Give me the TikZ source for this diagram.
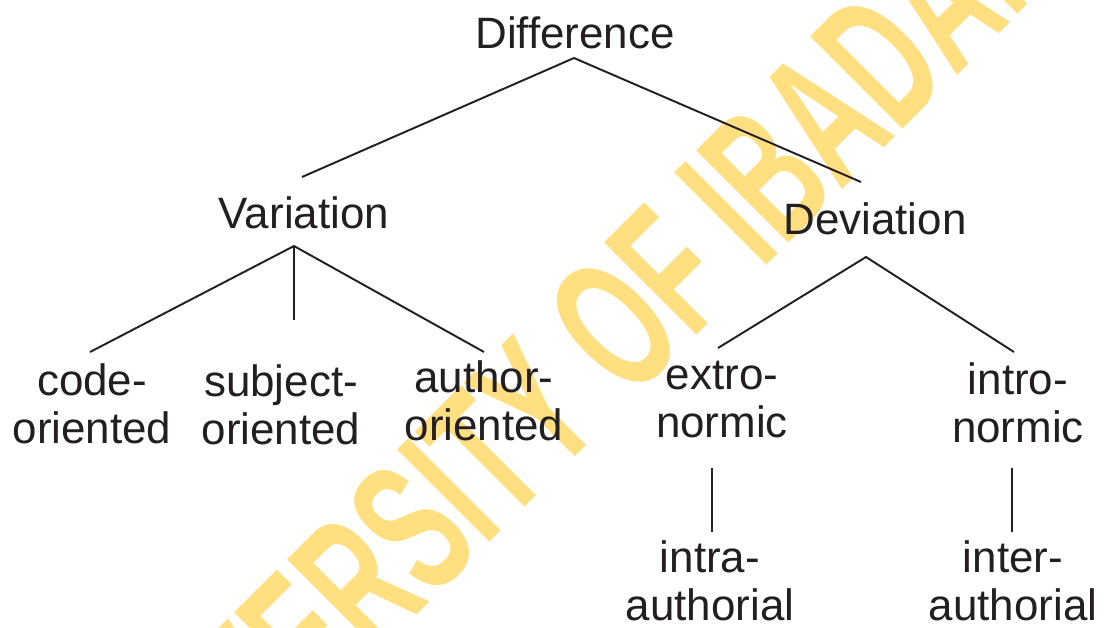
\documentclass[tikz,border=0pt]{standalone}
\usepackage{fontspec}
\setmainfont{Liberation Sans}
\usetikzlibrary{calc}
\definecolor{ink}{HTML}{231F20}
\definecolor{stamp}{HTML}{FFDF80}

\begin{document}
\begin{tikzpicture}[x = .02cm, y = -.02cm, every node/.style = {text = ink, font = \fontsize{25}{27.2}\selectfont, align = center, anchor = base, inner sep = 0pt}, branch/.style = {draw = ink, line width = 1.1pt}]
    \useasboundingbox (0,0) rectangle (1110,627);
    \clip (0,0) rectangle (1110,627);
    % watermark
    \node[text = stamp, font = \fontsize{108}{108}\selectfont\bfseries, rotate = 45, xscale = .59] (W) at (601,431) {UNIVERSITY OF IBADAN};
    \node (A) at (575,48) {Difference};
	\node (B) at (304,228) {Variation};
    \node (C) at (875,234) {Deviation};
	\node (D) at (92,443) {code-\\oriented};
    \node (E) at (281,444) {subject-\\oriented};
	\node (F) at (484,440) {author-\\oriented};
    \node (G) at (722,437) {extro-\\normic};
	\node (H) at (1018,442) {intro-\\normic};
    \node (I) at (710,620) {intra-\\authorial};
	\node (J) at (1013,620) {inter-\\authorial};
    \draw[branch] ($(B.base)+(-2,-51)$) -- ($(A.base)+(-1,10)$) -- ($(C.base)+(-14,-52)$);
    \draw[branch] ($(D.base)+(-2,-91)$) -- ($(B.base)+(-10,18)$) -- ($(F.base)+(0,-88)$);
    \draw[branch] ($(B.base)+(-10,18)$) -- ($(E.base)+(13,-124)$);
    \draw[branch] ($(G.base)+(-4,-89)$) -- ($(C.base)+(-9,23)$) -- ($(H.base)+(-4,-90)$);
    \draw[branch] ($(G.base)+(-10,31)$) -- ($(I.base)+(2,-88)$);
    \draw[branch] ($(H.base)+(-6,26)$) -- ($(J.base)+(-1,-88)$);
\end{tikzpicture}
\end{document}
